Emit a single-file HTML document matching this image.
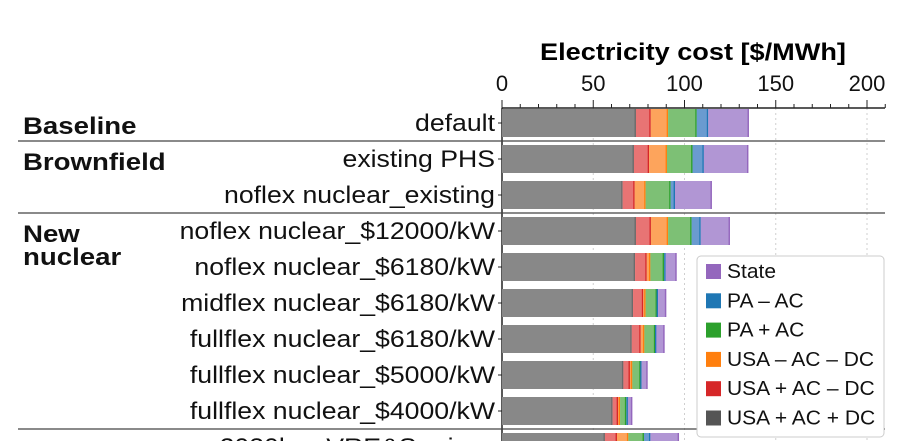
<!DOCTYPE html>
<html><head><meta charset="utf-8"><style>
html,body{margin:0;padding:0;background:#fff;width:911px;height:441px;overflow:hidden}
svg{display:block}
svg text{font-family:"Liberation Sans",Arial,sans-serif}
</style></head><body>
<svg id="chart" width="911" height="441" xmlns="http://www.w3.org/2000/svg">
<defs><clipPath id="frame"><rect x="0" y="0" width="911" height="441"/></clipPath></defs>
<g clip-path="url(#frame)">
<text id="title" x="693" y="60" text-anchor="middle" font-size="24" font-weight="bold">Electricity cost [$/MWh]</text>
<g id="axis"></g>
<g id="bars"></g>
<g id="labels"></g>
<g id="legend"></g>
</g>
</svg>
<script>
const categories = ["default","existing PHS","noflex nuclear_existing","noflex nuclear_$12000/kW","noflex nuclear_$6180/kW","midflex nuclear_$6180/kW","fullflex nuclear_$6180/kW","fullflex nuclear_$5000/kW","fullflex nuclear_$4000/kW","2030low VRE&S prices"];
const seriesNames = ["USA + AC + DC","USA + AC \u2013 DC","USA \u2013 AC \u2013 DC","PA + AC","PA \u2013 AC","State"];
const sUSAACDC = [73.4,72.3,66.1,73.4,72.9,71.8,71.1,66.5,60.6,56.4];
const sUSAACnoDC = [8.1,8.3,6.6,8.2,6.4,5.6,4.9,3.6,3.0,6.6];
const sUSAnoACDC = [9.5,9.8,6.0,9.4,2.0,1.3,2.0,1.3,1.1,6.2];
const sPAAC = [15.7,14.0,13.7,12.9,7.5,6.2,6.0,4.6,3.4,8.6];
const sPAnoAC = [6.3,6.2,2.4,5.0,0.9,0.6,0.6,0.5,0.9,3.5];
const sState = [22.3,24.4,20.2,16.0,6.0,4.5,4.5,3.3,2.4,15.7];
const xTicks = [0,50,100,150,200];
const groups = [{name:["Baseline"],row:0},{name:["Brownfield"],row:1},{name:["New","nuclear"],row:3},{name:["VRE &"],row:9}];
const separators = [1,3,9];

const series=[sUSAACDC,sUSAACnoDC,sUSAnoACDC,sPAAC,sPAnoAC,sState];
const fills=["#888888","#e87474","#fda45c","#7dc075","#6a9bd0","#b196d4"];
const edges=["#6b6b6b","#d62728","#ff7f0e","#2ca02c","#1f77b4","#9467bd"];
const legendFills=["#555555","#d62728","#ff7f0e","#2ca02c","#1f77b4","#9467bd"];
const NS="http://www.w3.org/2000/svg";
const x0=502,pxPer=1.825,rowTop=109,pitch=36,barH=28,H=441;
const X=v=>x0+v*pxPer;
const Y=i=>rowTop+i*pitch;
function mk(tag,attrs,parent){const e=document.createElementNS(NS,tag);for(const k in attrs)e.setAttribute(k,attrs[k]);parent.appendChild(e);return e;}
function stretch(t,f){const w=t.getComputedTextLength();t.setAttribute('textLength',(w*f).toFixed(1));t.setAttribute('lengthAdjust','spacingAndGlyphs');}
stretch(document.getElementById('title'),1.13);
const axis=document.getElementById('axis'),bars=document.getElementById('bars'),labels=document.getElementById('labels'),legend=document.getElementById('legend');
for(const t of xTicks){if(t===0)continue;
 const g=mk('line',{x1:X(t),x2:X(t),y1:108,y2:H,stroke:'#cfcfcf','stroke-width':1,'stroke-dasharray':'2,3'},axis);
 
 }
const al=mk('line',{x1:x0,x2:885,y1:108,y2:108,stroke:'#222','stroke-width':1.5},axis);


for(let v=0;v<=210;v+=10){
 const major=v%50===0;
 const tk=mk('line',{x1:X(v),x2:X(v),y1:major?100:104,y2:108,stroke:'#222','stroke-width':1},axis);
 
 }
for(const t of xTicks){
 const tx=mk('text',{x:X(t),y:91,'text-anchor':'middle','font-size':22,fill:'#111'},axis);tx.textContent=t;
 
 }
const yl=mk('line',{x1:x0,x2:x0,y1:108,y2:H,stroke:'#222','stroke-width':1.5},axis);


for(const r of separators){
 const yy=Y(r)-4;
 const s=mk('line',{x1:18,x2:885,y1:yy,y2:yy,stroke:'#444','stroke-width':1.3},axis);
 
 }
categories.forEach((c,i)=>{
 let acc=0;
 const top=Y(i), h=Math.min(barH,H-top);
 series.forEach((s,j)=>{
  const v=s[i];
  const r=mk('rect',{x:X(acc),y:top,width:v*pxPer,height:h,fill:fills[j]},bars);
  
  
  const e=mk('line',{x1:X(acc+v)-0.7,x2:X(acc+v)-0.7,y1:top,y2:top+h,stroke:edges[j],'stroke-width':1.4},bars);
  
  
  acc+=v;});
 if(top+barH/2<H){
  const tk=mk('line',{x1:x0-4,x2:x0,y1:top+barH/2,y2:top+barH/2,stroke:'#222'},axis);
  
  }
 const t=mk('text',{x:495,y:top+barH/2+8,'text-anchor':'end','font-size':24,fill:'#111'},labels);t.textContent=c;
 
 
 stretch(t,1.11);});
groups.forEach(g=>{
 g.name.forEach((n,k)=>{
  const t=mk('text',{x:23,y:Y(g.row)+barH/2+11+k*23,'font-size':24,'font-weight':'bold',fill:'#111'},labels);t.textContent=n;
  
  
  stretch(t,1.15);});});
const lb=mk('rect',{x:697,y:256,width:187,height:181,rx:4,fill:'#fff',stroke:'#ccc','stroke-width':1},legend);


for(let k=0;k<6;k++){
 const j=5-k, yy=271+k*29.3;
 const sw=mk('rect',{x:706,y:yy-7,width:15,height:15,fill:legendFills[j]},legend);
 
 
 const t=mk('text',{x:727,y:yy+7,'font-size':20,fill:'#111'},legend);t.textContent=seriesNames[j];
 
 
 stretch(t,1.05);}
</script>
</body></html>
